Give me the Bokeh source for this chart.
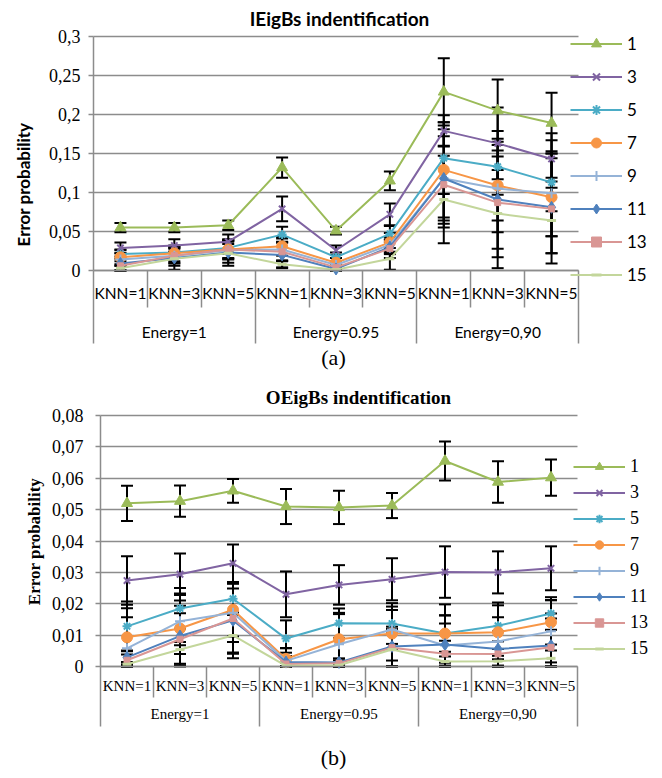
import numpy as np
from math import pi

from bokeh.plotting import figure
from bokeh.layouts import column
from bokeh.models import (ColumnDataSource, Range1d, FixedTicker, LinearAxis, Grid,
                          CustomJSTickFormatter, Whisker, TeeHead, Legend,
                          LegendItem, Label)
from bokeh.embed import file_html
from bokeh.resources import INLINE

# ---- categories -------------------------------------------------------
energies = ["Energy=1", "Energy=0.95", "Energy=0,90"]
knns = ["KNN=1", "KNN=3", "KNN=5"]
series_names = ["1", "3", "5", "7", "9", "11", "13", "15"]

# ---- IEigBs identification: error probability (mean) -------------------
ieig_1 = [0.055, 0.055, 0.058, 0.132, 0.051, 0.115, 0.229, 0.205, 0.189]
ieig_3 = [0.029, 0.032, 0.037, 0.079, 0.026, 0.072, 0.179, 0.163, 0.143]
ieig_5 = [0.021, 0.023, 0.029, 0.046, 0.017, 0.047, 0.144, 0.133, 0.113]
ieig_7 = [0.017, 0.022, 0.027, 0.031, 0.010, 0.036, 0.129, 0.109, 0.094]
ieig_9 = [0.014, 0.019, 0.026, 0.027, 0.007, 0.033, 0.118, 0.105, 0.099]
ieig_11 = [0.009, 0.016, 0.023, 0.020, 0.002, 0.030, 0.118, 0.091, 0.081]
ieig_13 = [0.006, 0.019, 0.027, 0.024, 0.004, 0.028, 0.110, 0.087, 0.079]
ieig_15 = [0.003, 0.015, 0.022, 0.008, 0.001, 0.015, 0.091, 0.073, 0.064]

# ---- IEigBs identification: error bar half-widths ----------------------
ieig_err_1 = [0.006, 0.006, 0.006, 0.013, 0.005, 0.012, 0.043, 0.040, 0.039]
ieig_err_3 = [0.007, 0.008, 0.009, 0.016, 0.006, 0.014, 0.020, 0.046, 0.024]
ieig_err_5 = [0.006, 0.007, 0.008, 0.010, 0.006, 0.010, 0.046, 0.036, 0.037]
ieig_err_7 = [0.009, 0.010, 0.011, 0.012, 0.006, 0.012, 0.061, 0.045, 0.050]
ieig_err_9 = [0.008, 0.009, 0.012, 0.014, 0.005, 0.010, 0.054, 0.056, 0.077]
ieig_err_11 = [0.009, 0.015, 0.017, 0.017, 0.002, 0.009, 0.063, 0.088, 0.072]
ieig_err_13 = [0.006, 0.010, 0.012, 0.012, 0.004, 0.012, 0.050, 0.059, 0.035]
ieig_err_15 = [0.003, 0.009, 0.012, 0.004, 0.001, 0.014, 0.056, 0.056, 0.042]

# ---- OEigBs identification: error probability (mean) -------------------
oeig_1 = [0.0520, 0.0527, 0.0560, 0.0510, 0.0507, 0.0513, 0.0655, 0.0588, 0.0602]
oeig_3 = [0.0274, 0.0294, 0.0329, 0.0230, 0.0260, 0.0278, 0.0301, 0.0300, 0.0313]
oeig_5 = [0.0128, 0.0185, 0.0216, 0.0089, 0.0138, 0.0137, 0.0105, 0.0130, 0.0169]
oeig_7 = [0.0093, 0.0121, 0.0181, 0.0024, 0.0087, 0.0105, 0.0105, 0.0109, 0.0141]
oeig_9 = [0.0058, 0.0144, 0.0171, 0.0018, 0.0071, 0.0118, 0.0067, 0.0080, 0.0112]
oeig_11 = [0.0029, 0.0097, 0.0147, 0.0014, 0.0013, 0.0064, 0.0070, 0.0056, 0.0067]
oeig_13 = [0.0020, 0.0087, 0.0153, 0.0008, 0.0010, 0.0060, 0.0041, 0.0040, 0.0061]
oeig_15 = [0.0007, 0.0054, 0.0099, 0.0002, 0.0004, 0.0054, 0.0016, 0.0017, 0.0026]

# ---- OEigBs identification: error bar half-widths ----------------------
oeig_err_1 = [0.0056, 0.0050, 0.0038, 0.0056, 0.0053, 0.0040, 0.0062, 0.0066, 0.0058]
oeig_err_3 = [0.0077, 0.0066, 0.0060, 0.0073, 0.0063, 0.0067, 0.0082, 0.0067, 0.0070]
oeig_err_5 = [0.0079, 0.0065, 0.0052, 0.0058, 0.0047, 0.0065, 0.0093, 0.0074, 0.0052]
oeig_err_7 = [0.0093, 0.0112, 0.0085, 0.0035, 0.0080, 0.0086, 0.0058, 0.0086, 0.0071]
oeig_err_9 = [0.0099, 0.0066, 0.0093, 0.0040, 0.0100, 0.0062, 0.0096, 0.0077, 0.0099]
oeig_err_11 = [0.0022, 0.0097, 0.0102, 0.0030, 0.0013, 0.0063, 0.0067, 0.0056, 0.0102]
oeig_err_13 = [0.0018, 0.0083, 0.0112, 0.0025, 0.0010, 0.0060, 0.0041, 0.0040, 0.0092]
oeig_err_15 = [0.0007, 0.0014, 0.0073, 0.0010, 0.0004, 0.0054, 0.0016, 0.0017, 0.0025]

# ---- styling ------------------------------------------------------------
COLORS = ["#9BBB59", "#8064A2", "#4BACC6", "#F79646",
          "#95B3D7", "#4F81BD", "#D99694", "#C3D69B"]
MARKERS = ["triangle", "x", "asterisk", "circle", "cross", "diamond", "square", "dash"]
SIZES = [11, 9, 9, 11, 10, 12, 6, 9]
GRAY = "#8C8C8C"
SANS = "Lato"
SERIF = "Liberation Serif"
W = 662

N = len(energies) * len(knns)
CENTERS = np.arange(N) + 0.5


def label_formatter(positions, labels):
    return CustomJSTickFormatter(
        args=dict(pos=list(positions), lbl=list(labels)),
        code="""
            let best = -1, d = 1e9;
            for (let i = 0; i < pos.length; i++) {
                const e = Math.abs(pos[i] - tick);
                if (e < d) { d = e; best = i; }
            }
            return d < 1e-6 ? lbl[best] : '';
        """)


def bottom_axis(positions, labels=None, tick_out=0, standoff=0, font=SANS,
                size="15px", line=False):
    ax = LinearAxis(fixed_location=0, bounds=(0, N),
                    ticker=FixedTicker(ticks=list(positions)))
    ax.formatter = label_formatter(positions, labels if labels else [""] * len(positions))
    ax.axis_line_color = GRAY if line else None
    ax.axis_line_width = 1.5
    ax.minor_tick_line_color = None
    if tick_out:
        ax.major_tick_line_color = GRAY
        ax.major_tick_line_width = 1.5
        ax.major_tick_in = 0
        ax.major_tick_out = tick_out
    else:
        ax.major_tick_line_color = None
        ax.major_tick_in = 0
        ax.major_tick_out = 0
    ax.major_label_standoff = standoff
    ax.major_label_text_font = font
    ax.major_label_text_font_size = size
    ax.major_label_text_color = "black"
    return ax


def build_chart(title, means, errs, ymax, ystep, g, st, caption):
    H, top = g["H"], g["fig_top"]
    left_px, right_px = g["frame_x"]
    ytop_py, y0_py = g["frame_y"]
    # scales: categories span [left_px, right_px], values span [y0_py, ytop_py]
    ux = N / (right_px - left_px)
    uy = ymax / (y0_py - ytop_py)
    x_range = Range1d(-left_px * ux, N + (W - right_px) * ux)
    y_range = Range1d(-(top + H - y0_py) * uy, ymax + (ytop_py - top) * uy)

    p = figure(width=W, height=H, x_range=x_range, y_range=y_range,
               x_axis_type=None, y_axis_type=None, title=None,
               output_backend="svg", toolbar_location=None,
               min_border=0, outline_line_color=None)

    def sx(px):
        return px

    def sy(py):
        return top + H - py

    # value axis
    yticks = list(np.round(np.arange(0, ymax + ystep / 2, ystep), 4))
    ya = LinearAxis(fixed_location=0, bounds=(0, ymax), ticker=FixedTicker(ticks=yticks))
    ya.formatter = CustomJSTickFormatter(
        code="return String(Math.round(tick * 10000) / 10000).replace('.', ',');")
    ya.axis_line_color = GRAY
    ya.axis_line_width = 1.5
    ya.major_tick_line_color = GRAY
    ya.major_tick_line_width = 1.5
    ya.major_tick_in = 0
    ya.major_tick_out = 5
    ya.minor_tick_line_color = None
    ya.major_label_text_font = SERIF
    ya.major_label_text_font_size = st["ytick"]
    ya.major_label_text_color = "black"
    ya.major_label_standoff = st["ystandoff"]
    p.add_layout(ya, "left")

    grid = Grid(dimension=1, ticker=FixedTicker(ticks=yticks), bounds=(0, ymax),
                grid_line_color=GRAY, grid_line_width=1.5)
    if "cross_bounds" in grid.properties():
        grid.cross_bounds = (0, N)
        p.add_layout(grid)
    else:
        p.segment(x0=[0] * len(yticks), x1=[N] * len(yticks), y0=yticks, y1=yticks,
                  line_color=GRAY, line_width=1.5, level="underlay")

    # category axes: KNN labels, Energy labels, and the separator ticks
    inner_len, group_len = st["sep"]
    knn_labels = [k for _ in energies for k in knns]
    p.add_layout(bottom_axis(CENTERS, knn_labels, standoff=st["knn_standoff"],
                             font=st["xfont"], size=st["xtick"], line=True), "below")
    group_centers = [len(knns) * i + len(knns) / 2 for i in range(len(energies))]
    p.add_layout(bottom_axis(group_centers, energies, standoff=st["grp_standoff"],
                             font=st["xfont"], size=st["xgroup"]), "below")
    inner_b = [b for b in range(N + 1) if b % len(knns) != 0]
    group_b = [b for b in range(N + 1) if b % len(knns) == 0]
    p.add_layout(bottom_axis(inner_b, tick_out=inner_len), "below")
    p.add_layout(bottom_axis(group_b, tick_out=group_len), "below")

    # series: error bars, lines and markers
    items = []
    for name, vals, err, col, mk, sz in zip(series_names, means, errs, COLORS, MARKERS, SIZES):
        vals = np.asarray(vals)
        err = np.asarray(err)
        src = ColumnDataSource(dict(x=CENTERS, y=vals, upper=vals + err,
                                    lower=np.maximum(vals - err, 0)))
        p.add_layout(Whisker(base="x", upper="upper", lower="lower", source=src,
                             dimension="height", line_color="black", line_width=2,
                             level="underlay",
                             upper_head=TeeHead(size=12, line_color="black", line_width=2),
                             lower_head=TeeHead(size=12, line_color="black", line_width=2)))
        rl = p.line("x", "y", source=src, line_color=col, line_width=2)
        lw = 3 if mk == "dash" else (2 if mk in ("x", "asterisk", "cross") else 1)
        rm = p.scatter("x", "y", source=src, marker=mk, size=sz,
                       fill_color=col, line_color=col, line_width=lw)
        items.append(LegendItem(label=name, renderers=[rl, rm]))

    lx, first_py, gh, sp = st["legend"]
    n_items = len(items)
    leg_h = n_items * gh + (n_items - 1) * sp
    leg = Legend(items=items, location=(sx(lx), sy(first_py - gh / 2 + leg_h)),
                 orientation="vertical", glyph_width=52, glyph_height=gh,
                 label_height=gh, spacing=sp, padding=0, margin=0, label_standoff=5,
                 border_line_color=None, background_fill_alpha=0,
                 label_text_font=st["legfont"], label_text_font_size=st["leg"],
                 label_text_color="black")
    p.add_layout(leg)

    # chart title, value-axis title and caption
    tx, ty = st["title_at"]
    p.add_layout(Label(x=sx(tx), y=sy(ty), x_units="screen", y_units="screen",
                       text=title, text_align="center", text_baseline="middle",
                       text_font=st["titlefont"], text_font_style="bold",
                       text_font_size=st["title"], text_color="black"))
    yx, yy = st["ylabel_at"]
    p.add_layout(Label(x=sx(yx), y=sy(yy), x_units="screen", y_units="screen",
                       text="Error probability", angle=pi / 2,
                       text_align="center", text_baseline="middle",
                       text_font=st["titlefont"], text_font_style="bold",
                       text_font_size=st["ylabel"], text_color="black"))
    cx, cy = st["caption_at"]
    p.add_layout(Label(x=sx(cx), y=sy(cy), x_units="screen", y_units="screen",
                       text=caption, text_align="center", text_baseline="middle",
                       text_font=SERIF, text_font_size="22px", text_color="black"))
    return p


ieig_means = [ieig_1, ieig_3, ieig_5, ieig_7, ieig_9, ieig_11, ieig_13, ieig_15]
ieig_errs = [ieig_err_1, ieig_err_3, ieig_err_5, ieig_err_7, ieig_err_9,
             ieig_err_11, ieig_err_13, ieig_err_15]
oeig_means = [oeig_1, oeig_3, oeig_5, oeig_7, oeig_9, oeig_11, oeig_13, oeig_15]
oeig_errs = [oeig_err_1, oeig_err_3, oeig_err_5, oeig_err_7, oeig_err_9,
             oeig_err_11, oeig_err_13, oeig_err_15]

# page layout (pixels from the top-left of the page)
geo_a = dict(H=380, fig_top=0, frame_x=(93, 578), frame_y=(36, 270))
geo_b = dict(H=398, fig_top=380, frame_x=(100, 577), frame_y=(415, 666))

style_a = dict(ytick="18px", ystandoff=8, xfont=SANS, xtick="15.5px",
               xgroup="15.5px", knn_standoff=13, grp_standoff=52,
               sep=(37, 73), legfont=SANS, leg="17px",
               legend=(570, 43, 25, 8), titlefont=SANS, title="19px",
               ylabel="17px", title_at=(339, 18), ylabel_at=(23, 184),
               caption_at=(333, 357))
style_b = dict(ytick="18px", ystandoff=12, xfont=SERIF, xtick="15px",
               xgroup="15px", knn_standoff=11, grp_standoff=39,
               sep=(31, 60), legfont=SERIF, leg="18px",
               legend=(573, 466, 21, 5), titlefont=SERIF, title="19px",
               ylabel="17px", title_at=(358, 397), ylabel_at=(34, 541),
               caption_at=(333, 757))

p1 = build_chart("IEigBs indentification", ieig_means, ieig_errs, 0.3, 0.05,
                 geo_a, style_a, "(a)")
p2 = build_chart("OEigBs indentification", oeig_means, oeig_errs, 0.08, 0.01,
                 geo_b, style_b, "(b)")

layout = column(p1, p2, spacing=0)
open("out.html", "w").write(file_html(layout, INLINE))
